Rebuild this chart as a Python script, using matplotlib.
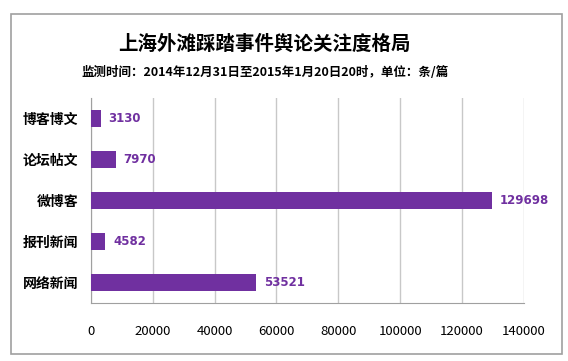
import matplotlib.pyplot as plt
from matplotlib.patches import Rectangle

plt.rcParams["font.family"] = ["Noto Sans CJK SC", "DejaVu Sans"]

categories = ["博客博文", "论坛帖文", "微博客", "报刊新闻", "网络新闻"]
values = [3130, 7970, 129698, 4582, 53521]
xticks = [0, 20000, 40000, 60000, 80000, 100000, 120000, 140000]

PURPLE = "#7030A0"
GRID = "#C8C8C8"

fig = plt.figure(figsize=(5.68, 3.61), dpi=100)
fig.patches.append(Rectangle((11 / 568, 7 / 361), 551 / 568, 340 / 361,
                             transform=fig.transFigure, fill=False,
                             edgecolor="#A0A0A0", lw=1.2))

ax = fig.add_axes([0.160, 0.1607, 0.7625, 0.5678])
y = list(range(len(categories)))
ax.barh(y, values, height=0.4, color=PURPLE, zorder=3)
for yi, v in zip(y, values):
    ax.text(v + 2600, yi, str(v), va="center", ha="left", color=PURPLE,
            fontsize=8.5, fontweight="bold", family="DejaVu Sans", zorder=4)

ax.set_xlim(0, 140000)
ax.set_ylim(len(categories) - 0.5, -0.5)
ax.set_xticks(xticks)
ax.set_xticklabels([str(t) for t in xticks], fontsize=9.5)
ax.set_yticks(y)
ax.set_yticklabels(categories, fontsize=10, fontweight="bold")
ax.tick_params(axis="x", length=0, pad=16)
ax.tick_params(axis="y", length=0, pad=9)
ax.grid(axis="x", color=GRID, lw=1, zorder=0)
for s in ["top", "right"]:
    ax.spines[s].set_visible(False)
for s in ["left", "bottom"]:
    ax.spines[s].set_color("#A0A0A0")

fig.text(0.466, 0.878, "上海外滩踩踏事件舆论关注度格局", ha="center", va="center",
         fontsize=14, fontweight="bold")
fig.text(0.466, 0.80, "监测时间：2014年12月31日至2015年1月20日20时，单位：条/篇",
         ha="center", va="center", fontsize=9, fontweight="bold")

fig.savefig("out.png", dpi=100)
